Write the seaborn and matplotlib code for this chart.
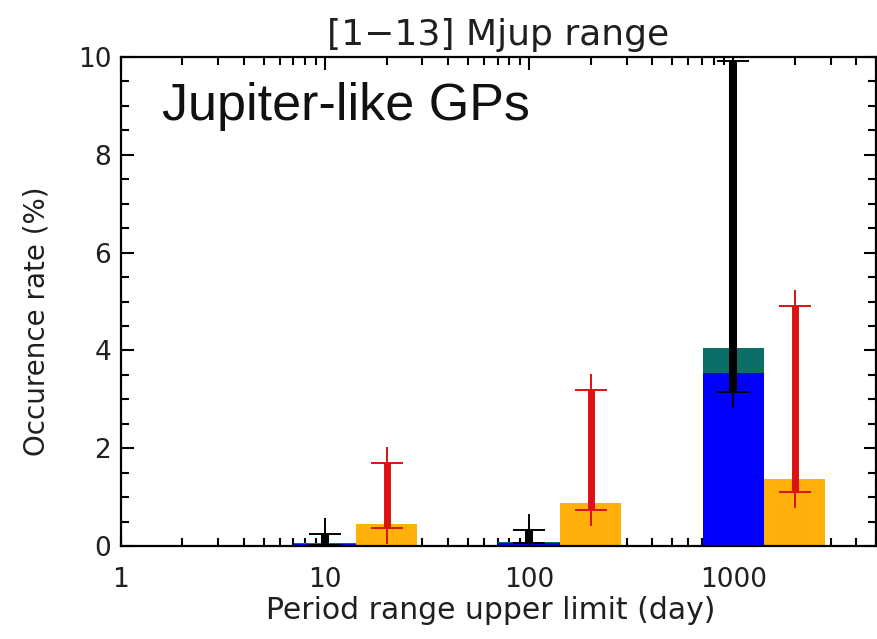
import numpy as np
import pandas as pd
import matplotlib
matplotlib.use("Agg")
import matplotlib.pyplot as plt
from matplotlib.ticker import MultipleLocator, FixedLocator, FixedFormatter, NullFormatter
import seaborn as sns

# Period bins (upper limit, days) and occurrence rates (%)
periods = [10, 100, 1000]
tick_values = [1, 10, 100, 1000]
tick_labels = ["1", "10", "100", "1000"]
teal_rate = [0.06, 0.08, 4.05]
blue_rate = [0.05, 0.07, 3.53]
orange_rate = [0.45, 0.87, 1.36]
black_lo = [0.02, 0.06, 3.15]
black_hi = [0.25, 0.33, 9.92]
red_lo = [0.37, 0.74, 1.11]
red_hi = [1.69, 3.18, 4.91]

sns.set_theme(style="ticks")
plt.rcParams["font.family"] = ["DejaVu Sans"]

fig = plt.figure(figsize=(8.77, 6.39), dpi=100)
ax = fig.add_axes([121 / 877, 93 / 639, 755 / 877, 489 / 639])

p = np.array(periods, dtype=float)
r2 = np.sqrt(2.0)
left_pos = p                 # survey bars centred on the period limit
right_pos = 2.0 * p          # comparison bars, one bin to the right
left_edges = np.log10(np.sort(np.concatenate([p / r2, p * r2]))).tolist()
right_edges = np.log10(np.sort(np.concatenate([p * r2, p * 2 * r2]))).tolist()

df_left = pd.DataFrame({"period": left_pos, "teal": teal_rate, "blue": blue_rate})
df_right = pd.DataFrame({"period": right_pos, "orange": orange_rate})

common = dict(log_scale=True, element="bars", fill=True, alpha=1.0,
              linewidth=0, edgecolor="none", stat="count", ax=ax)
sns.histplot(data=df_left, x="period", weights="teal", bins=left_edges,
             color="#0B6F68", zorder=1, **common)
sns.histplot(data=df_left, x="period", weights="blue", bins=left_edges,
             color="#0000FA", zorder=2, **common)
sns.histplot(data=df_right, x="period", weights="orange", bins=right_edges,
             color="#FFB00A", zorder=2, **common)


def range_bar(xs, lo, hi, color, lw):
    ax.vlines(xs, lo, hi, colors=color, linewidth=lw, zorder=4)
    for x, a, b in zip(xs, lo, hi):
        ax.plot([x, x], [a, b], linestyle="none", marker="+", markersize=23,
                markeredgewidth=1.4, color=color, zorder=5)


range_bar(left_pos, black_lo, black_hi, "black", 5.8)
range_bar(right_pos, red_lo, red_hi, "#DD1111", 5.0)

ax.set_xscale("log")
ax.set_xlim(1, 5000)
ax.set_ylim(0, 10)
ax.xaxis.set_major_locator(FixedLocator(tick_values))
ax.xaxis.set_major_formatter(FixedFormatter(tick_labels))
ax.xaxis.set_minor_formatter(NullFormatter())
ax.yaxis.set_major_locator(MultipleLocator(2))
ax.yaxis.set_minor_locator(MultipleLocator(0.5))

text_color = "#1f1f1f"
ax.tick_params(which="both", direction="in", top=True, right=True,
               colors="black", labelcolor=text_color, width=1.5)
ax.tick_params(which="major", length=9, labelsize=19)
ax.tick_params(which="minor", length=5.5)
ax.tick_params(axis="x", which="major", pad=15)
ax.tick_params(axis="y", which="major", pad=7)
for s in ax.spines.values():
    s.set_visible(True)
    s.set_linewidth(1.6)
    s.set_color("black")

ax.set_xlabel("Period range upper limit (day)", fontsize=21.5, color=text_color)
ax.set_ylabel("Occurence rate (%)", fontsize=20, color=text_color)
ax.xaxis.set_label_coords(0.49, -0.102)
ax.yaxis.set_label_coords(-0.094, 0.46)
ax.set_title("[1\u221213] Mjup range", fontsize=26, color=text_color, pad=9)

ax.text(0.054, 0.871, "Jupiter-like GPs", transform=ax.transAxes,
        fontsize=37.5, family=["Liberation Sans", "DejaVu Sans"],
        color="#111111", ha="left", va="baseline")

fig.savefig("out.png", dpi=100, facecolor="white")
